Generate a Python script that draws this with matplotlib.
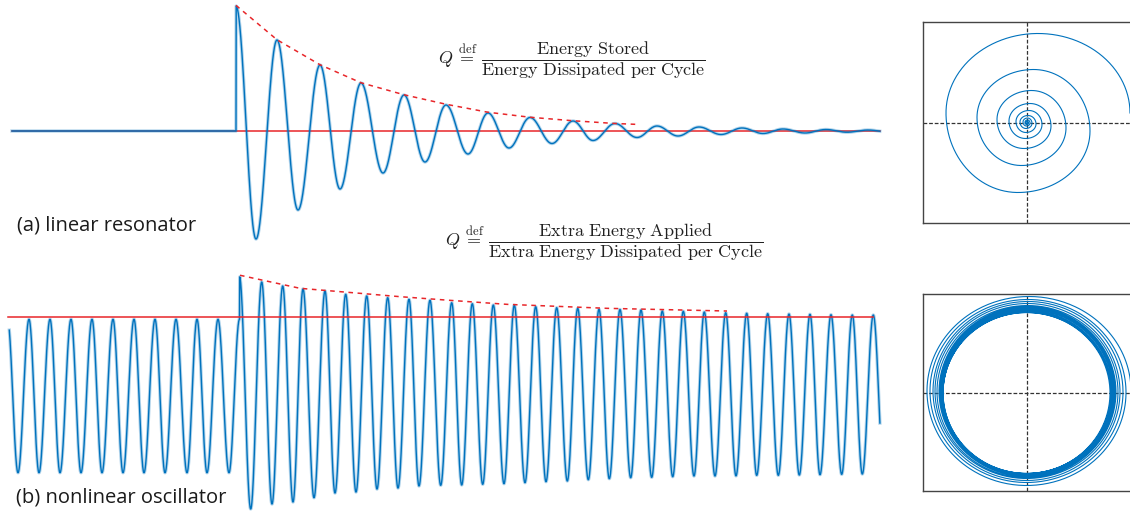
import numpy as np
import matplotlib
matplotlib.use("Agg")
import matplotlib.pyplot as plt

# ---- data ----
# (a) linear resonator: time of each extremum and its value (first peak = 1)
lin_t = [12, 236, 236, 256, 277, 298, 320, 340, 361, 383, 404, 425, 446, 468, 488, 509,
         530, 552, 573, 593, 615, 637, 657, 678, 699, 721, 742, 763, 783, 805, 826, 847, 868, 889]
lin_v = [0, 0, 1.0, -0.864, 0.728, -0.632, 0.528, -0.464, 0.384, -0.336, 0.288, -0.248,
         0.208, -0.184, 0.144, -0.136, 0.108, -0.1, 0.08, -0.076, 0.06, -0.052, 0.04, -0.04,
         0.032, -0.028, 0.024, -0.02, 0.016, -0.016, 0.012, -0.01, 0.008, -0.008]
lin_env_t = [236, 277, 320, 361, 404, 446, 488, 530, 573, 615, 637]
lin_env_v = [1.005, 0.73, 0.53, 0.386, 0.29, 0.214, 0.15, 0.11, 0.082, 0.06, 0.053]

# (b) nonlinear oscillator: extrema (steady amplitude = 1)
nl_t = [7.5, 18, 29, 39, 50, 60, 71, 81, 92, 102, 113, 123, 134, 144, 155, 165, 176, 187,
        197, 207, 218, 229, 239.5, 239.5, 250.7, 261.7, 272, 282.7, 293, 303, 314, 325, 335,
        345.7, 356, 366.7, 377, 387.7, 398, 409, 419, 430, 440.7, 451.7, 461.7, 472.3, 482.7,
        493.3, 504, 514.3, 525, 535.7, 546, 556.7, 567.3, 577.7, 588.3, 599, 609.3, 620,
        630.7, 641, 651.7, 662.3, 672.7, 683.3, 694, 704.3, 715, 725.7, 736, 746.7, 756.7,
        767.7, 778.3, 789, 799.3, 810, 820, 831, 841.7, 852.3, 862.3, 873.3, 884]
nl_v = [1.0, -1.0, 1.0, -1.0, 1.0, -1.0, 1.0, -1.0, 1.0, -1.0, 1.0, -1.0, 1.0, -1.0, 1.0,
        -1.0, 1.0, -1.0, 1.0, -1.0, 1.0, -1.0, 1.0, 1.555, -1.473, 1.486, -1.408, 1.434,
        -1.382, 1.395, -1.326, 1.369, -1.265, 1.326, -1.252, 1.304, -1.213, 1.282, -1.2,
        1.261, -1.173, 1.248, -1.164, 1.216, -1.16, 1.203, -1.151, 1.186, -1.143, 1.183,
        -1.13, 1.164, -1.117, 1.151, -1.108, 1.143, -1.091, 1.13, -1.078, 1.128, -1.065,
        1.121, -1.06, 1.108, -1.052, 1.104, -1.043, 1.095, -1.043, 1.086, -1.041, 1.078,
        -1.034, 1.073, -1.034, 1.069, -1.03, 1.065, -1.026, 1.06, -1.021, 1.056, -1.017,
        1.056, -1.017]
nl_env_t = [240, 300, 400, 449, 507, 607, 727]
nl_env_v = [1.574, 1.404, 1.295, 1.248, 1.195, 1.143, 1.108]
nl_ref = 1.025

# phase portraits: alternating x extremes (right/left) and y extremes (top/bottom)
spiral_x = [103, -81, 63, -50, 39, -30, 24, -18, 15, -11, 9, -7, 5, -4, 3, -2, 1.5, -1, 0.6]
spiral_y = [-70, 89, -70, 53, -43, 32, -26, 19, -16, 12, -10, 7, -6, 4.5, -3.5, 2.5, -2, 1.2, -0.8, 0.5]
ring_x = [104, -100, 99, -97, 96, -94, 93, -92, 91, -90, 89, -88, 88, -87, 87, -86,
          86, -85, 85, -85, 84, -84, 84, -84, 83, -84]
ring_y = [-93, 96, -93, 93, -90, 91, -88, 89, -86, 87, -85, 86, -84, 85, -83, 84,
          -82, 83, -82, 82, -81, 81, -81, 80, -81, 80, -81]

blue = '#0072BD'
red = '#e8262a'


def half_cos(knot_t, knot_v, grid):
    knot_t = np.asarray(knot_t, float)
    knot_v = np.asarray(knot_v, float)
    i = np.clip(np.searchsorted(knot_t, grid, side='right') - 1, 0, len(knot_t) - 2)
    t0, t1 = knot_t[i], knot_t[i + 1]
    v0, v1 = knot_v[i], knot_v[i + 1]
    s = np.clip((grid - t0) / (t1 - t0), 0, 1)
    return (v0 + v1) / 2 + (v0 - v1) / 2 * np.cos(np.pi * s)


def wave(ax, kt, kv, t_start, t_end):
    t = np.arange(t_start, t_end, 0.2)
    v = half_cos(kt, kv, t)
    ax.plot(t, v, color=blue, lw=2.4, alpha=0.3, zorder=3)
    ax.plot(t, v, color=blue, lw=1.0, zorder=4)


def phase(ax, xs, ys, lim_x, lim_y):
    th_x = np.arange(len(xs)) * np.pi
    th_y = np.arange(len(ys)) * np.pi - np.pi / 2
    th = np.linspace(0, th_x[-1], 4000)
    ax.plot(half_cos(th_x, xs, th), half_cos(th_y, ys, th), color=blue, lw=0.8)
    ax.axhline(0, color='#333333', lw=0.9, ls=(0, (3, 1.5)), zorder=0)
    ax.axvline(0, color='#333333', lw=0.9, ls=(0, (3, 1.5)), zorder=0)
    ax.set_xlim(-lim_x, lim_x)
    ax.set_ylim(-lim_y, lim_y)
    ax.set_xticks([])
    ax.set_yticks([])
    for s in ax.spines.values():
        s.set_color('#444444')
        s.set_linewidth(1.0)


W, H = 1130, 512
fig = plt.figure(figsize=(W / 100, H / 100), dpi=100)

# (a) time series
ax1 = fig.add_axes([0, (H - 260) / H, 900 / W, 260 / H])
ax1.axis('off')
ax1.set_xlim(0, 900)
ax1.set_ylim(-1.032, 1.048)
ax1.plot([12, 880], [0, 0], color=red, lw=1.1, zorder=2)
wave(ax1, lin_t, lin_v, 12, 880)
ax1.plot(lin_env_t, lin_env_v, color=red, lw=1.1, ls=(0, (3, 3)), zorder=5)

# (b) time series
ax2 = fig.add_axes([0, 0, 900 / W, 252 / H])
ax2.axis('off')
ax2.set_xlim(0, 900)
ax2.set_ylim(-1.512, 1.773)
ax2.plot([8, 873], [nl_ref, nl_ref], color=red, lw=1.1, zorder=5)
wave(ax2, nl_t, nl_v, 9.3, 880)
ax2.plot(nl_env_t, nl_env_v, color=red, lw=1.1, ls=(0, (3, 3)), zorder=5)

# phase portraits
ax3 = fig.add_axes([923 / W, (H - 223) / H, 208 / W, 201 / H])
phase(ax3, spiral_x, spiral_y, 104, 100.5)
ax4 = fig.add_axes([923 / W, (H - 491) / H, 208 / W, 197 / H])
phase(ax4, ring_x, ring_y, 104, 98.5)

# labels
fig.text(17 / W, 1 - 226 / H, '(a) linear resonator', family='Open Sans', fontsize=14.5,
         color='#1a1a1a', va='center')
fig.text(16 / W, 1 - 497 / H, '(b) nonlinear oscillator', family='Open Sans', fontsize=14.5,
         color='#1a1a1a', va='center')
fig.text(706 / W, 1 - 60 / H,
         r'$Q\;\overset{\mathrm{def}}{=}\;\dfrac{\mathrm{Energy\ Stored}}{\mathrm{Energy\ Dissipated\ per\ Cycle}}$',
         math_fontfamily='cm', fontsize=13, ha='right', va='center', color='#222222')
fig.text(763 / W, 1 - 242 / H,
         r'$Q\;\overset{\mathrm{def}}{=}\;\dfrac{\mathrm{Extra\ Energy\ Applied}}{\mathrm{Extra\ Energy\ Dissipated\ per\ Cycle}}$',
         math_fontfamily='cm', fontsize=13, ha='right', va='center', color='#222222')

fig.savefig('out.png', dpi=100)
